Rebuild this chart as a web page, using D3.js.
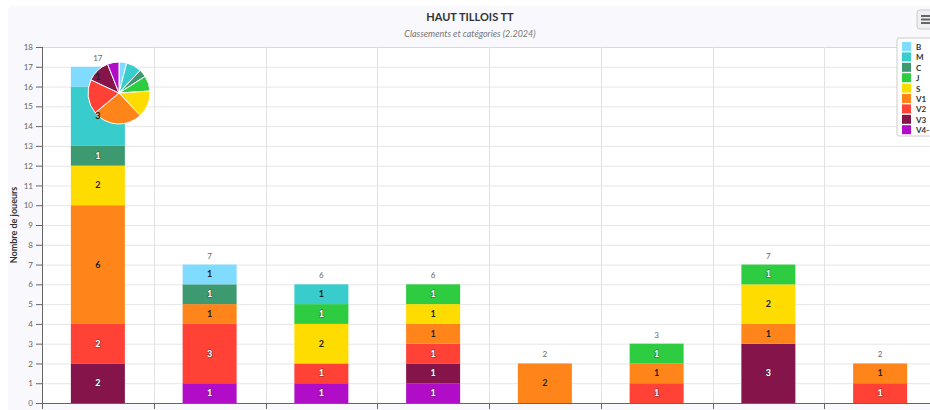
<!DOCTYPE html>
<html>
<head>
<meta charset="utf-8">
<script src="https://cdn.jsdelivr.net/npm/d3@7"></script>
<style>
  body { margin: 0; background: #fff; font-family: Lato, "Open Sans", sans-serif; }
  svg text { font-family: Lato, "Open Sans", sans-serif; }
</style>
</head>
<body>
<div id="chart"></div>
<script>
var categories = ["5", "6", "7", "8", "9", "10", "11", "12"];
var seriesNames = ["B", "M", "C", "J", "S", "V1", "V2", "V3", "V4-"];
var seriesColors = ["#7fdbff", "#39cccc", "#3d9970", "#2ecc40", "#ffdc00", "#ff851b", "#ff4136", "#85144b", "#b10dc9"];
// values per series, one per category
var B   = [1, 1, 0, 0, 0, 0, 0, 0];
var M   = [3, 0, 1, 0, 0, 0, 0, 0];
var C   = [1, 1, 0, 0, 0, 0, 0, 0];
var J   = [0, 0, 1, 1, 0, 1, 1, 0];
var S   = [2, 0, 2, 1, 0, 0, 2, 0];
var V1  = [6, 1, 0, 1, 2, 1, 1, 1];
var V2  = [2, 3, 1, 1, 0, 1, 0, 1];
var V3  = [2, 0, 0, 1, 0, 0, 3, 0];
var V4m = [0, 1, 1, 1, 0, 0, 0, 0];
var yTicks = d3.range(0, 19);

var seriesValues = [B, M, C, J, S, V1, V2, V3, V4m];
var darkLabel = {"B": true, "M": true, "S": true, "V1": true};

var W = 930, H = 410;
var margin = {top: 47, right: -6, bottom: 7, left: 42};
var width = W - margin.left - margin.right,
    height = H - margin.top - margin.bottom;

var svg = d3.select("#chart").append("svg")
    .attr("width", W)
    .attr("height", H);

// chart background
svg.append("rect").attr("x", 8).attr("y", 6).attr("width", W).attr("height", H)
    .attr("rx", 4).attr("fill", "#f8f8fd");
svg.append("rect").attr("x", margin.left).attr("y", margin.top)
    .attr("width", width).attr("height", height).attr("fill", "#fff");

var x = d3.scaleBand().domain(categories).range([0, width]).paddingInner(0).paddingOuter(0);
var y = d3.scaleLinear().domain([0, 18]).range([height, 0]);

var g = svg.append("g").attr("transform", "translate(" + margin.left + "," + margin.top + ")");

// grid
g.append("g").selectAll("line").data(yTicks).enter().append("line")
    .attr("x1", 0).attr("x2", width)
    .attr("y1", function(d) { return y(d) + 0.5; }).attr("y2", function(d) { return y(d) + 0.5; })
    .attr("stroke", function(d) { return d === 18 ? "#d8d8d8" : "#e6e6e6"; });
g.append("g").selectAll("line").data(categories.slice(1)).enter().append("line")
    .attr("x1", function(d) { return Math.round(x(d)) + 0.5; })
    .attr("x2", function(d) { return Math.round(x(d)) + 0.5; })
    .attr("y1", 0).attr("y2", height)
    .attr("stroke", "#e2e2e2");

// stack, first series on top
var table = categories.map(function(c, i) {
  var row = {cat: c};
  seriesNames.forEach(function(s, k) { row[s] = seriesValues[k][i]; });
  return row;
});
var stack = d3.stack().keys(seriesNames.slice().reverse());
var layers = stack(table);
var color = d3.scaleOrdinal().domain(seriesNames).range(seriesColors);

var barW = 54;
var layerG = g.selectAll(".layer").data(layers).enter().append("g")
    .attr("fill", function(d) { return color(d.key); });
layerG.selectAll("rect").data(function(d) { return d; }).enter().append("rect")
    .filter(function(d) { return d[1] > d[0]; })
    .attr("x", function(d) { return x(d.data.cat) + x.bandwidth() / 2 - barW / 2; })
    .attr("width", barW)
    .attr("y", function(d) { return y(d[1]); })
    .attr("height", function(d) { return y(d[0]) - y(d[1]); });

// axes
var yAxis = d3.axisLeft(y).tickValues(yTicks).tickSize(6).tickPadding(3);
var ya = g.append("g").call(yAxis);
ya.select(".domain").attr("stroke", "#666").attr("d", "M0.5," + height + "V0");
ya.selectAll(".tick line").attr("stroke", "#666");
ya.selectAll(".tick text").attr("fill", "#666").style("font-size", "8px");

var xAxis = d3.axisBottom(x).tickSize(0).tickPadding(11);
var xa = g.append("g").attr("transform", "translate(0," + height + ")").call(xAxis);
xa.select(".domain").attr("stroke", "#666");
xa.selectAll(".tick text").attr("fill", "#666").style("font-size", "9px");
xa.append("g").selectAll("line").data(categories.slice(1)).enter().append("line")
    .attr("x1", function(d) { return Math.round(x(d)) + 0.5; })
    .attr("x2", function(d) { return Math.round(x(d)) + 0.5; })
    .attr("y1", 0).attr("y2", 6).attr("stroke", "#666");
xa.append("line").attr("x1", 0.5).attr("x2", 0.5).attr("y1", 0).attr("y2", 6).attr("stroke", "#666");

// pie of totals
var totals = seriesValues.map(function(v) { return d3.sum(v); });
var pieData = d3.pie().sort(null).value(function(d) { return d.v; })(
  seriesNames.map(function(s, k) { return {name: s, v: totals[k]}; }));
var arc = d3.arc().innerRadius(0).outerRadius(31);
svg.append("g").attr("transform", "translate(119,93)")
  .selectAll("path").data(pieData).enter().append("path")
    .attr("d", arc)
    .attr("fill", function(d) { return color(d.data.name); })
    .attr("stroke", "#fff").attr("stroke-width", 1);

// data labels (drawn above the pie)
var lblG = svg.append("g").attr("transform", "translate(" + margin.left + "," + margin.top + ")");
layers.forEach(function(layer) {
  var dark = darkLabel[layer.key];
  lblG.append("g").selectAll("text").data(layer.filter(function(d) { return d[1] > d[0]; }))
    .enter().append("text")
    .attr("x", function(d) { return x(d.data.cat) + x.bandwidth() / 2; })
    .attr("y", function(d) { return (y(d[0]) + y(d[1])) / 2 + 3; })
    .attr("text-anchor", "middle")
    .style("font-size", "9px").style("font-weight", "bold")
    .attr("fill", dark ? "#222" : "#fff")
    .attr("stroke", dark ? "none" : "#333").attr("stroke-width", dark ? 0 : 1.6)
    .attr("stroke-opacity", 0.45)
    .attr("paint-order", "stroke")
    .text(function(d) { return d[1] - d[0]; });
});

// stack totals
lblG.append("g").selectAll("text").data(table).enter().append("text")
    .attr("x", function(d) { return x(d.cat) + x.bandwidth() / 2; })
    .attr("y", function(d) { return y(d3.sum(seriesNames, function(s) { return d[s]; })) - 6; })
    .attr("text-anchor", "middle")
    .attr("fill", "#666")
    .style("font-size", "8px")
    .text(function(d) { return d3.sum(seriesNames, function(s) { return d[s]; }); });

// titles
svg.append("text").attr("x", 470).attr("y", 21).attr("text-anchor", "middle")
    .attr("fill", "#333").style("font-size", "11px").style("font-weight", "bold")
    .text("HAUT TILLOIS TT");
svg.append("text").attr("x", 470).attr("y", 37).attr("text-anchor", "middle")
    .attr("fill", "#777").style("font-size", "9px").style("font-style", "italic")
    .text("Classements et catégories (2.2024)");
svg.append("text")
    .attr("transform", "translate(17," + (margin.top + height / 2) + ") rotate(-90)")
    .attr("text-anchor", "middle")
    .attr("fill", "#333").style("font-size", "9px").style("font-weight", "bold")
    .text("Nombre de joueurs");

// legend
var lg = svg.append("g").attr("transform", "translate(897,38)");
lg.append("rect").attr("width", 40).attr("height", 98).attr("fill", "#fff")
    .attr("stroke", "#ccc").attr("rx", 2);
var li = lg.selectAll(".li").data(seriesNames).enter().append("g")
    .attr("transform", function(d, i) { return "translate(5," + (4 + i * 10.4) + ")"; });
li.append("rect").attr("width", 9).attr("height", 9).attr("fill", function(d) { return color(d); });
li.append("text").attr("x", 14).attr("y", 8).attr("fill", "#333")
    .style("font-size", "8px").style("font-weight", "bold")
    .text(function(d) { return d; });

// menu button
var mb = svg.append("g").attr("transform", "translate(917,10)");
mb.append("rect").attr("width", 20).attr("height", 19).attr("rx", 3)
    .attr("fill", "#f0f0f4").attr("stroke", "#ccc");
mb.selectAll("line").data([0, 1, 2]).enter().append("line")
    .attr("x1", 4).attr("x2", 14)
    .attr("y1", function(d) { return 6 + d * 3.5; }).attr("y2", function(d) { return 6 + d * 3.5; })
    .attr("stroke", "#666").attr("stroke-width", 2);
</script>
</body>
</html>
